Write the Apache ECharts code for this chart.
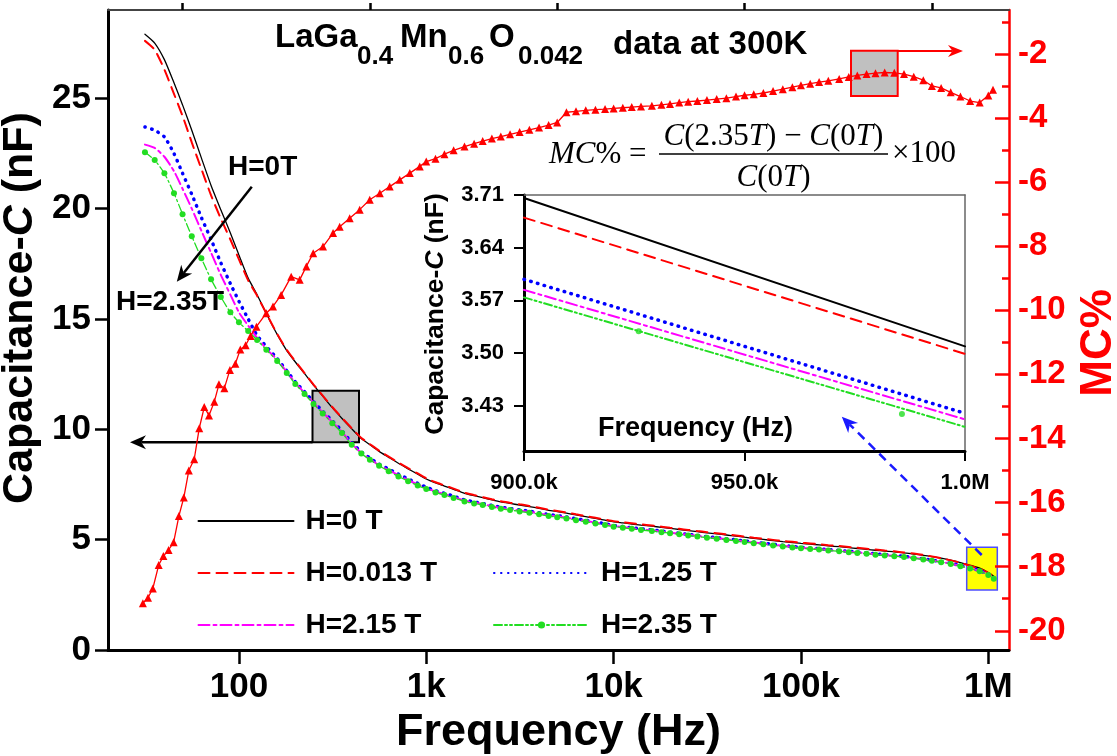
<!DOCTYPE html>
<html>
<head>
<meta charset="utf-8">
<script src="https://cdn.jsdelivr.net/npm/echarts@6/dist/echarts.min.js"></script>
<style>
html, body { margin: 0; padding: 0; background: #fff; }
#chart { width: 1117px; height: 756px; }
</style>
</head>
<body>
<div id="chart"></div>
<script>
// frequency grid (Hz) of the capacitance curves
const freq = [31.5, 35.5, 40, 45, 50, 56, 63, 71, 80, 90,
  100, 112, 125, 140, 160, 180, 200, 224, 250, 280, 315, 355, 400, 450, 500, 560, 630, 710, 800, 900,
  1e3, 1.12e3, 1.25e3, 1.4e3, 1.6e3, 1.8e3, 2e3, 2.24e3, 2.5e3, 2.8e3, 3.15e3, 3.55e3, 4e3, 4.5e3, 5e3, 5.6e3, 6.3e3, 7.1e3, 8e3, 9e3,
  1e4, 1.12e4, 1.25e4, 1.4e4, 1.6e4, 1.8e4, 2e4, 2.24e4, 2.5e4, 2.8e4, 3.15e4, 3.55e4, 4e4, 4.5e4, 5e4, 5.6e4, 6.3e4, 7.1e4, 8e4, 9e4,
  1e5, 1.12e5, 1.25e5, 1.4e5, 1.6e5, 1.8e5, 2e5, 2.24e5, 2.5e5, 2.8e5, 3.15e5, 3.55e5, 4e5, 4.5e5, 5e5, 5.6e5, 6.3e5, 7.1e5, 8e5, 9e5,
  1e6, 1.07e6]

// capacitance (nF) per field
const c0T = [27.9, 27.5, 26.75, 25.7, 24.7, 23.55, 22.3, 21.05, 19.95, 18.9,
  17.9, 16.85, 16.1, 15.25, 14.3, 13.57, 13.05, 12.52, 12.0, 11.5, 10.98, 10.49, 10.02, 9.58, 9.3, 9.0, 8.73, 8.46, 8.21, 7.97,
  7.75, 7.57, 7.43, 7.28, 7.1, 6.99, 6.9, 6.8, 6.71, 6.64, 6.57, 6.5, 6.42, 6.33, 6.27, 6.2, 6.12, 6.04, 5.96, 5.88,
  5.81, 5.76, 5.71, 5.66, 5.61, 5.56, 5.51, 5.46, 5.41, 5.36, 5.31, 5.26, 5.21, 5.16, 5.11, 5.06, 5.01, 4.96, 4.91, 4.87,
  4.83, 4.8, 4.76, 4.72, 4.68, 4.64, 4.6, 4.56, 4.52, 4.48, 4.45, 4.4, 4.35, 4.29, 4.23, 4.16, 4.07, 3.96, 3.84, 3.706,
  3.509, 3.34]
const c0013T = [27.6, 27.2, 26.3, 25.2, 24.2, 23.0, 21.8, 20.6, 19.55, 18.6,
  17.7, 16.75, 16.05, 15.25, 14.32, 13.6, 13.08, 12.55, 12.03, 11.53, 11.01, 10.52, 10.05, 9.61, 9.33, 9.03, 8.76, 8.49, 8.24, 8.0,
  7.78, 7.6, 7.46, 7.31, 7.13, 7.02, 6.93, 6.83, 6.74, 6.67, 6.6, 6.53, 6.45, 6.36, 6.3, 6.23, 6.15, 6.07, 5.99, 5.91,
  5.84, 5.79, 5.74, 5.69, 5.64, 5.59, 5.54, 5.49, 5.44, 5.39, 5.34, 5.29, 5.24, 5.19, 5.14, 5.09, 5.04, 4.99, 4.94, 4.9,
  4.86, 4.83, 4.79, 4.75, 4.71, 4.67, 4.63, 4.59, 4.55, 4.51, 4.47, 4.42, 4.37, 4.31, 4.24, 4.16, 4.06, 3.95, 3.82, 3.68,
  3.499, 3.33]
const c125T = [23.7, 23.55, 23.25, 22.5, 21.6, 20.65, 19.6, 18.6, 17.55, 16.6,
  15.8, 15.0, 14.25, 13.75, 13.2, 12.65, 12.15, 11.7, 11.25, 10.82, 10.38, 9.93, 9.4, 8.98, 8.7, 8.42, 8.2, 7.97, 7.75, 7.55,
  7.38, 7.22, 7.1, 6.97, 6.8, 6.71, 6.64, 6.55, 6.47, 6.41, 6.35, 6.29, 6.22, 6.14, 6.09, 6.03, 5.95, 5.88, 5.8, 5.72,
  5.64, 5.59, 5.54, 5.49, 5.44, 5.39, 5.34, 5.29, 5.24, 5.19, 5.14, 5.09, 5.04, 4.99, 4.94, 4.89, 4.84, 4.79, 4.74, 4.69,
  4.65, 4.62, 4.59, 4.55, 4.51, 4.47, 4.44, 4.4, 4.36, 4.32, 4.29, 4.24, 4.19, 4.13, 4.07, 4.01, 3.93, 3.83, 3.72, 3.598,
  3.42, 3.25]
const c215T = [22.9, 22.75, 22.35, 21.7, 20.9, 20.0, 19.0, 18.0, 17.0, 16.1,
  15.3, 14.7, 14.15, 13.65, 13.15, 12.6, 12.1, 11.65, 11.2, 10.77, 10.33, 9.88, 9.35, 8.93, 8.65, 8.37, 8.15, 7.92, 7.7, 7.5,
  7.34, 7.18, 7.06, 6.93, 6.77, 6.68, 6.61, 6.52, 6.44, 6.38, 6.32, 6.26, 6.19, 6.11, 6.06, 6.0, 5.92, 5.85, 5.77, 5.7,
  5.62, 5.57, 5.52, 5.47, 5.42, 5.37, 5.32, 5.27, 5.22, 5.17, 5.12, 5.07, 5.02, 4.97, 4.92, 4.87, 4.82, 4.77, 4.72, 4.68,
  4.63, 4.6, 4.57, 4.53, 4.49, 4.45, 4.42, 4.38, 4.34, 4.3, 4.27, 4.23, 4.18, 4.12, 4.06, 3.99, 3.91, 3.81, 3.7, 3.584,
  3.412, 3.24]
const c235T = [22.55, 22.2, 21.6, 20.7, 19.75, 18.75, 17.75, 16.8, 16.0, 15.3,
  14.85, 14.45, 14.05, 13.6, 13.1, 12.55, 12.05, 11.6, 11.15, 10.72, 10.28, 9.83, 9.3, 8.9, 8.62, 8.35, 8.1, 7.86, 7.65, 7.45,
  7.3, 7.14, 7.02, 6.89, 6.73, 6.64, 6.57, 6.48, 6.4, 6.34, 6.28, 6.22, 6.15, 6.07, 6.02, 5.96, 5.88, 5.81, 5.73, 5.66,
  5.59, 5.54, 5.49, 5.44, 5.39, 5.34, 5.29, 5.24, 5.19, 5.14, 5.09, 5.04, 4.99, 4.94, 4.89, 4.84, 4.79, 4.74, 4.69, 4.65,
  4.61, 4.58, 4.55, 4.51, 4.47, 4.43, 4.4, 4.36, 4.32, 4.28, 4.25, 4.21, 4.16, 4.1, 4.04, 3.98, 3.9, 3.8, 3.69, 3.574,
  3.402, 3.23]

// magnetocapacitance MC% (right axis)
const mcFreq = [30.7, 32.7, 34.7, 37.3, 39.5, 42.1, 44.8, 47.8, 50.8, 54, 57.7, 61.4, 65.3, 69.2, 73.9,
  78.2, 83.6, 89.5, 95.7, 101.7, 108.6, 115.4, 124, 140, 152, 168, 190, 211, 229, 249, 281, 318,
  345, 390, 441, 499, 565, 638, 722, 817, 923,
  1e3, 1.12e3, 1.25e3, 1.4e3, 1.6e3, 1.8e3, 2e3, 2.24e3, 2.5e3, 2.8e3, 3.15e3, 3.55e3, 4e3, 4.5e3, 5e3, 5.6e3, 6.3e3, 7.1e3, 8e3, 9e3,
  1e4, 1.12e4, 1.25e4, 1.4e4, 1.6e4, 1.8e4, 2e4, 2.24e4, 2.5e4, 2.8e4, 3.15e4, 3.55e4, 4e4, 4.5e4, 5e4, 5.6e4, 6.3e4, 7.1e4, 8e4, 9e4,
  1e5, 1.12e5, 1.25e5, 1.4e5, 1.6e5, 1.8e5, 2e5, 2.24e5, 2.5e5, 2.8e5, 3.15e5, 3.55e5, 4e5, 4.5e5, 5e5, 5.6e5, 6.3e5, 7.1e5, 8e5, 9e5,
  1e6, 1.06e6]
const mcVal = [-19.14, -18.97, -18.68, -17.95, -17.67, -17.48, -17.24, -16.42, -15.84, -15.0, -14.65, -13.68, -13.02, -13.28, -12.85,
  -12.31, -12.43, -11.86, -11.67, -11.22, -11.09, -10.8, -10.51, -10.09, -9.88, -9.52, -8.95, -9.05, -8.63, -8.22, -8.01, -7.59,
  -7.39, -7.13, -6.86, -6.55, -6.35, -6.14, -5.93, -5.72, -5.51,
  -5.36, -5.27, -5.13, -5.01, -4.89, -4.8, -4.72, -4.64, -4.58, -4.51, -4.44, -4.37, -4.3, -4.22, -4.14, -3.82, -3.79, -3.76, -3.74, -3.72,
  -3.7, -3.68, -3.66, -3.64, -3.62, -3.59, -3.56, -3.52, -3.49, -3.47, -3.44, -3.41, -3.38, -3.33, -3.29, -3.26, -3.22, -3.16, -3.1, -3.04,
  -2.98, -2.93, -2.88, -2.84, -2.78, -2.72, -2.67, -2.63, -2.6, -2.58, -2.59, -2.63, -2.71, -2.82, -3.0, -3.06, -3.2, -3.33, -3.47, -3.52,
  -3.3, -3.12]

// inset: zoom of 900 kHz - 1 MHz
const insetFreq = [900000, 1000000]
const inset0T = [3.706, 3.509]
const inset0013T = [3.68, 3.499]
const inset125T = [3.598, 3.42]
const inset215T = [3.584, 3.412]
const inset235T = [3.574, 3.402]
const insetMarkFreq = [926000, 985700]
const insetMark235T = [3.529, 3.419]

const FONT = 'Liberation Sans'
const SERIF = 'Liberation Serif'
const bold = (size, color = '#000') => ({ fontFamily: FONT, fontWeight: 'bold', fontSize: size, color })
const pair = (xs, ys) => xs.map((x, i) => [x, ys[i]])

const fmtFreq = v => {
  if (v >= 1e6) return v / 1e6 + 'M'
  if (v >= 1e3) return v / 1e3 + 'k'
  return String(v)
}

const curves = [
  { name: 'H=0 T', data: c0T, inset: inset0T, color: '#000', width: 1.3, type: 'solid' },
  { name: 'H=0.013 T', data: c0013T, inset: inset0013T, color: '#ff0000', width: 2, type: [11, 7] },
  { name: 'H=1.25 T', data: c125T, inset: inset125T, color: '#0000ff', width: 3.5, type: [0.5, 6.5] },
  { name: 'H=2.15 T', data: c215T, inset: inset215T, color: '#ff00ff', width: 2, type: [11, 4, 3, 4] },
  { name: 'H=2.35 T', data: c235T, inset: inset235T, color: '#22dd22', width: 1.3, type: [8, 3, 2, 3, 2, 3] },
]

const mainSeries = curves.map((c, i) => ({
  name: c.name,
  type: 'line',
  xAxisIndex: 0,
  yAxisIndex: 0,
  data: pair(freq, c.data),
  smooth: 0.2,
  symbol: i === 4 ? 'circle' : 'none',
  symbolSize: 6,
  showSymbol: i === 4,
  itemStyle: { color: c.color },
  lineStyle: { color: c.color, width: c.width, type: c.type, cap: 'round' },
  z: 3 + i,
}))

const insetSeries = curves.map(c => ({
  type: 'line',
  xAxisIndex: 2,
  yAxisIndex: 3,
  data: pair(insetFreq, c.inset),
  symbol: 'none',
  lineStyle: { color: c.color, width: c.width === 1.3 ? 2 : c.width, type: c.type, cap: 'round' },
}))

// arrow = line + filled head
function arrow(x1, y1, x2, y2, color, width, dash, headLen = 16, headW = 7) {
  const len = Math.hypot(x2 - x1, y2 - y1)
  const ux = (x2 - x1) / len, uy = (y2 - y1) / len
  const px = -uy, py = ux
  const bx = x2 - ux * headLen, by = y2 - uy * headLen
  const ix = x2 - ux * headLen * 0.7, iy = y2 - uy * headLen * 0.7
  return [
    { type: 'line', shape: { x1, y1, x2: ix, y2: iy }, style: { stroke: color, lineWidth: width, lineDash: dash || null }, z: 10 },
    { type: 'polygon', shape: { points: [[x2, y2], [bx + px * headW, by + py * headW], [ix, iy], [bx - px * headW, by - py * headW]] }, style: { fill: color }, z: 10 },
  ]
}

const txt = (text, x, y, size, opt = {}) => ({
  type: 'text', z: 20,
  style: Object.assign({ text, x, y, fill: '#000', fontFamily: FONT, fontWeight: 'bold', fontSize: size, align: 'left', verticalAlign: 'middle' }, opt),
})

const serifRich = { it: { fontStyle: 'italic', fontFamily: SERIF, fontSize: 31 } }
const serif = (text, x, y, align) => ({
  type: 'text', z: 20,
  style: { text, x, y, fill: '#000', fontFamily: SERIF, fontSize: 31, align, verticalAlign: 'middle', rich: serifRich },
})

const graphics = [
  // grey / red / yellow boxes (under the curves)
  { type: 'rect', shape: { x: 312.5, y: 390.7, width: 46.5, height: 51.6 }, style: { fill: '#c0c0c0', stroke: '#000', lineWidth: 2 }, z: 0 },
  { type: 'rect', shape: { x: 851, y: 50.7, width: 46.7, height: 45.3 }, style: { fill: '#c0c0c0', stroke: '#ff0000', lineWidth: 2 }, z: 0 },
  { type: 'rect', shape: { x: 966.7, y: 547.3, width: 30.6, height: 42.7 }, style: { fill: '#ffff00', stroke: '#4d4dff', lineWidth: 1.5 }, z: 0 },
  ...arrow(312.5, 442.3, 130, 442.3, '#000', 2.5, null, 16, 7),
  ...arrow(897.7, 51, 963, 51, '#ff0000', 2, null, 15, 6),
  ...arrow(981.7, 555, 841.8, 416.7, '#1a1aff', 2.5, [9, 6], 16, 7),
  ...arrow(251.8, 186.7, 176.8, 281.7, '#000', 2.5, null, 16, 7),
  txt('H=0T', 228, 167, 28),
  txt('H=2.35T', 116, 302, 28),
  // sample title with subscripts
  txt('LaGa', 275, 38.3, 33),
  txt('0.4', 357, 56.7, 26),
  txt('Mn', 400, 38.3, 33),
  txt('0.6', 448, 56.7, 26),
  txt('O', 489, 38.3, 33),
  txt('0.042', 518, 56.7, 26),
  txt('data at 300K', 613, 45, 33),
  // MC% definition
  serif('{it|MC}% =', 549, 155, 'left'),
  serif('{it|C}(2.35{it|T}) \u2212 {it|C}(0{it|T})', 773.5, 137, 'center'),
  { type: 'line', shape: { x1: 659, y1: 154, x2: 888, y2: 154 }, style: { stroke: '#000', lineWidth: 1.5 }, z: 20 },
  serif('{it|C}(0{it|T})', 773.5, 178, 'center'),
  serif('\u00d7100', 892, 154, 'left'),
]

const legendRows = [
  { name: 'H=0 T', left: 197.5, top: 507 },
  { name: 'H=0.013 T', left: 197.5, top: 559 },
  { name: 'H=1.25 T', left: 493, top: 559 },
  { name: 'H=2.15 T', left: 197.5, top: 611 },
  { name: 'H=2.35 T', left: 493, top: 611 },
]

const chart = echarts.init(document.getElementById('chart'), null, { renderer: 'canvas' })
chart.setOption({
  animation: false,
  backgroundColor: '#fff',
  grid: [
    { left: 108, top: 10, right: 108, bottom: 106, outerBoundsMode: 'none' },
    { left: 524, top: 195, width: 441, height: 256, outerBoundsMode: 'none' },
  ],
  legend: legendRows.map(r => ({
    data: [r.name],
    left: r.left,
    top: r.top,
    padding: 0,
    itemWidth: 95,
    itemHeight: 9,
    // only the 2.35 T curve carries markers
    itemStyle: r.name === 'H=2.35 T' ? {} : { color: 'rgba(0,0,0,0)', borderWidth: 0 },
    textStyle: Object.assign(bold(28), { padding: [0, 0, 0, 7] }),
  })),
  xAxis: [
    {
      type: 'log', gridIndex: 0, min: 20, max: 1.29e6,
      axisLine: { lineStyle: { color: '#000', width: 3 } },
      axisTick: { length: 14, lineStyle: { color: '#000', width: 2.5 }, customValues: [100, 1e3, 1e4, 1e5, 1e6] },
      axisLabel: Object.assign(bold(35), { margin: 20, formatter: fmtFreq, customValues: [100, 1e3, 1e4, 1e5, 1e6] }),
      splitLine: { show: false },
      name: 'Frequency (Hz)', nameLocation: 'middle', nameGap: 15,
      nameTextStyle: bold(45),
    },
    {
      // minor ticks at 50, 500, ...
      type: 'log', gridIndex: 0, min: 20, max: 1.29e6,
      axisLine: { show: false },
      axisTick: { length: 7, lineStyle: { color: '#000', width: 2.5 }, customValues: [50, 500, 5e3, 5e4, 5e5] },
      axisLabel: { show: false },
      splitLine: { show: false },
    },
    {
      type: 'value', gridIndex: 1, min: 900000, max: 1000000, interval: 50000,
      axisLine: { lineStyle: { color: '#000', width: 3 } },
      axisTick: { length: 10, lineStyle: { color: '#000', width: 2 } },
      axisLabel: Object.assign(bold(22), { margin: 21, formatter: v => v >= 1e6 ? (v / 1e6).toFixed(1) + 'M' : (v / 1e3).toFixed(1) + 'k' }),
      splitLine: { show: false },
      name: 'Frequency (Hz)', nameLocation: 'middle', nameGap: -36,
      nameTextStyle: Object.assign(bold(27), { padding: [0, 98, 0, 0] }),
    },
    {
      // frame tops
      type: 'value', gridIndex: 0, position: 'top', min: 0, max: 1,
      axisLine: { lineStyle: { color: '#444', width: 2 } },
      axisTick: { show: false }, axisLabel: { show: false }, splitLine: { show: false },
    },
    {
      type: 'value', gridIndex: 1, position: 'top', min: 0, max: 1,
      axisLine: { lineStyle: { color: '#666', width: 1.5 } },
      axisTick: { show: false }, axisLabel: { show: false }, splitLine: { show: false },
    },
  ],
  yAxis: [
    {
      type: 'value', gridIndex: 0, min: 0, max: 29,
      axisLine: { show: true, lineStyle: { color: '#000', width: 3 } },
      axisTick: { show: true, length: 13, lineStyle: { color: '#000', width: 2.5 }, customValues: [0, 5, 10, 15, 20, 25] },
      axisLabel: Object.assign(bold(35), { margin: 17, customValues: [0, 5, 10, 15, 20, 25] }),
      splitLine: { show: false },
      name: '{a|Capacitance-}{b|C}{a| (nF)}', nameLocation: 'middle', nameRotate: 90, nameGap: 52,
      nameTextStyle: Object.assign(bold(43), { padding: [0, 0, 0, 44], rich: { a: bold(43), b: Object.assign(bold(43), { fontStyle: 'italic' }) } }),
    },
    {
      type: 'value', gridIndex: 0, position: 'right', min: -20.6, max: -0.63,
      axisLine: { show: true, lineStyle: { color: '#ff0000', width: 2.5 } },
      axisTick: { show: true, inside: true, length: 14, lineStyle: { color: '#ff0000', width: 2.5 }, customValues: [-20, -18, -16, -14, -12, -10, -8, -6, -4, -2] },
      axisLabel: Object.assign(bold(33, '#ff0000'), { margin: 9, customValues: [-20, -18, -16, -14, -12, -10, -8, -6, -4, -2] }),
      splitLine: { show: false },
      name: 'MC%', nameLocation: 'middle', nameRotate: 90, nameGap: 66,
      nameTextStyle: Object.assign(bold(44, '#ff0000'), { padding: [0, 26, 0, 0] }),
    },
    {
      // minor right ticks
      type: 'value', gridIndex: 0, position: 'right', min: -20.6, max: -0.63,
      axisLine: { show: false },
      axisTick: { show: true, inside: true, length: 7, lineStyle: { color: '#ff0000', width: 2.5 }, customValues: [-19, -17, -15, -13, -11, -9, -7, -5, -3, -1] },
      axisLabel: { show: false },
      splitLine: { show: false },
    },
    {
      type: 'value', gridIndex: 1, min: 3.37, max: 3.71,
      axisLine: { show: true, lineStyle: { color: '#000', width: 3 } },
      axisTick: { show: true, length: 10, lineStyle: { color: '#000', width: 2 }, customValues: [3.43, 3.5, 3.57, 3.64, 3.71] },
      axisLabel: Object.assign(bold(22), { margin: 20, formatter: v => v.toFixed(2), customValues: [3.43, 3.5, 3.57, 3.64, 3.71] }),
      splitLine: { show: false },
      name: '{a|Capacitance-}{b|C}{a| (nF)}', nameLocation: 'middle', nameRotate: 90, nameGap: 75,
      nameTextStyle: Object.assign(bold(26.5), { padding: [0, 0, 0, 18], rich: { a: bold(26.5), b: Object.assign(bold(26.5), { fontStyle: 'italic' }) } }),
    },
    {
      type: 'value', gridIndex: 1, position: 'right', min: 0, max: 1,
      axisLine: { show: true, lineStyle: { color: '#666', width: 1.5 } },
      axisTick: { show: false }, axisLabel: { show: false }, splitLine: { show: false },
    },
  ],
  graphic: graphics,
  series: [
    ...mainSeries,
    ...insetSeries,
    {
      type: 'scatter', xAxisIndex: 2, yAxisIndex: 3,
      data: pair(insetMarkFreq, insetMark235T),
      symbol: 'circle', symbolSize: 6, itemStyle: { color: '#22dd22' },
    },
    {
      name: 'MC%', type: 'line', xAxisIndex: 0, yAxisIndex: 1,
      data: pair(mcFreq, mcVal),
      symbol: 'triangle', symbolSize: 8,
      itemStyle: { color: '#ff0000' },
      lineStyle: { color: '#ff0000', width: 1.3 },
      z: 10,
    },
  ],
})
</script>
</body>
</html>
